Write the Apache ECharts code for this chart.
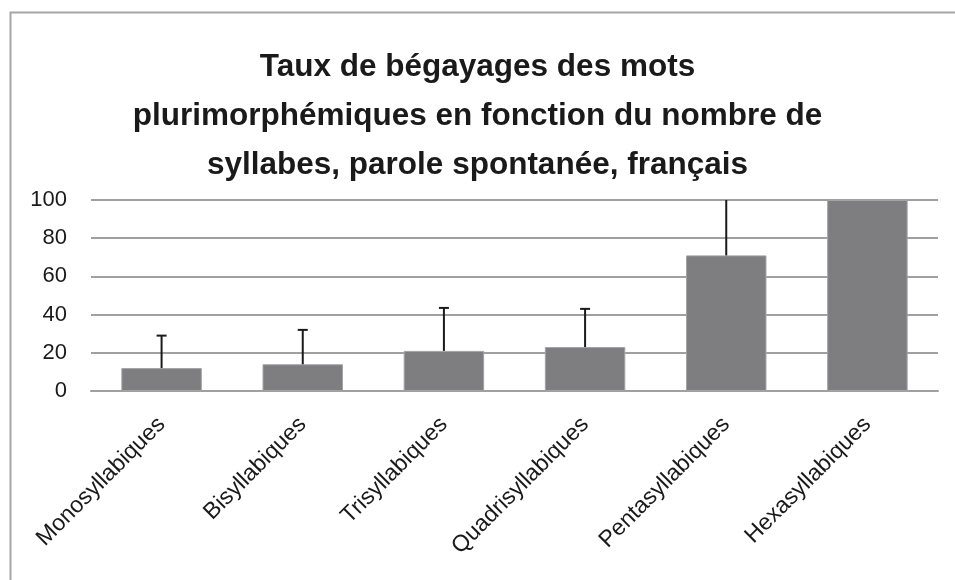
<!DOCTYPE html>
<html>
<head>
<meta charset="utf-8">
<script src="https://cdn.jsdelivr.net/npm/echarts@6/dist/echarts.min.js"></script>
<style>html,body{margin:0;padding:0;background:#fff}#c{width:955px;height:580px}</style>
</head>
<body>
<div id="c"></div>
<script>
const titleText = "Taux de bégayages des mots\nplurimorphémiques en fonction du nombre de\nsyllabes, parole spontanée, français";
const categories = ["Monosyllabiques", "Bisyllabiques", "Trisyllabiques", "Quadrisyllabiques", "Pentasyllabiques", "Hexasyllabiques"];
const values = [12, 14, 21, 23, 71, 100];
const errorUpper = [29, 32, 43.5, 43, 125, null];
const yTicks = [0, 20, 40, 60, 80, 100];

const chart = echarts.init(document.getElementById('c'), null, {renderer: 'canvas'});
const errData = categories.map((c, i) => [i, values[i], errorUpper[i]]).filter(d => d[2] != null);

chart.setOption({
  animation: false,
  graphic: [{
    type: 'rect', left: 8, top: 10, shape: {width: 1000, height: 1000},
    style: {fill: 'none', stroke: '#a6a6a6', lineWidth: 2}, z: -1
  }],
  title: {
    text: titleText, left: 'center', top: 38,
    textStyle: {fontFamily: 'Liberation Sans', fontWeight: 'bold', fontSize: 31.5, lineHeight: 49, color: '#1a1a1a'}
  },
  grid: {left: 91, right: 17, top: 200, bottom: 189, containLabel: false},
  xAxis: {
    type: 'category', data: categories,
    axisLine: {lineStyle: {color: '#a0a0a0', width: 2}},
    axisTick: {show: false},
    axisLabel: {rotate: 45, fontFamily: 'Liberation Sans', fontSize: 23, color: '#1a1a1a', margin: 30, interval: 0}
  },
  yAxis: {
    type: 'value', min: 0, max: 100, interval: 20,
    axisLine: {show: false}, axisTick: {show: false},
    splitLine: {lineStyle: {color: '#a0a0a0', width: 2}},
    axisLabel: {fontFamily: 'Liberation Sans', fontSize: 22, color: '#1a1a1a', margin: 24,
      formatter: v => yTicks.includes(v) ? String(v) : ''}
  },
  series: [{
    type: 'bar', data: values, barWidth: '57%',
    itemStyle: {color: '#7e7e81', borderColor: '#a3a3a5', borderWidth: 1}
  }, {
    type: 'custom', data: errData, clip: true, z: 5,
    encode: {x: 0, y: [1, 2]},
    renderItem: function (params, api) {
      const x = api.value(0);
      const base = api.coord([x, api.value(1)]);
      const top = api.coord([x, api.value(2)]);
      const capW = 10;
      return {
        type: 'group',
        children: [
          {type: 'line', shape: {x1: base[0], y1: base[1], x2: top[0], y2: top[1]}, style: {stroke: '#1a1a1a', lineWidth: 2}},
          {type: 'line', shape: {x1: top[0] - capW / 2, y1: top[1], x2: top[0] + capW / 2, y2: top[1]}, style: {stroke: '#1a1a1a', lineWidth: 2}}
        ]
      };
    }
  }]
});
</script>
</body>
</html>
